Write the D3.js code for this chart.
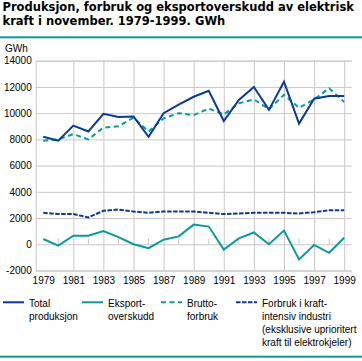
<!DOCTYPE html>
<html>
<head>
<meta charset="utf-8">
<script src="https://cdn.jsdelivr.net/npm/d3@7"></script>
<style>
  body { margin: 0; background: #fff; }
  svg text { font-family: "Liberation Sans", Arial, sans-serif; fill: #000; }
  svg text.title { font-family: "DejaVu Sans", Verdana, sans-serif; font-weight: bold; font-size: 11.5px; }
</style>
</head>
<body>
<svg id="chart"></svg>
<script>
var years = d3.range(1979, 2000);
var totalProduksjon = [8200, 7900, 9050, 8600, 9950, 9700, 9750, 8200, 10000, 10650, 11250, 11700,
                       9400, 11000, 12000, 10250, 12400, 9200, 11100, 11300, 11300];
var eksportoverskudd = [400, -100, 650, 650, 1000, 550, 0, -300, 350, 600, 1500, 1350,
                        -400, 450, 900, 0, 1050, -1150, -50, -650, 500];
var bruttoforbruk = [7900, 8000, 8400, 8000, 8900, 9000, 9650, 8600, 9600, 10000, 9850, 10350,
                     9900, 10750, 11050, 10300, 11400, 10400, 11050, 11900, 10850];
var kraftintensiv = [2400, 2300, 2300, 2050, 2550, 2650, 2500, 2400, 2500, 2500, 2500, 2400,
                     2300, 2350, 2400, 2400, 2400, 2350, 2450, 2600, 2600];
var yTicks = d3.range(-2000, 14001, 2000);
var labelYears = years.filter(function(d) { return d % 2 == 1; });
var legendLabels = [["Total", "produksjon"], ["Eksport-", "overskudd"], ["Brutto-", "forbruk"],
                    ["Forbruk i kraft-", "intensiv industri", "(eksklusive uprioritert", "kraft til elektrokjeler)"]];

function drawChart() {
  var W = 362, H = 361;
  var pLeft = 35.7, pRight = 351.7, pTop = 60.7, pBottom = 270.5;
  var blue = "#0b3a96", teal = "#0b9a9a", grid = "#c8c8c8";

  var svg = d3.select("#chart").attr("width", W).attr("height", H);

  // title
  var title = svg.append("text").attr("class", "title").attr("x", 2.5).attr("y", 10.5);
  title.append("tspan").attr("x", 2.5).text("Produksjon, forbruk og eksportoverskudd av elektrisk");
  title.append("tspan").attr("x", 2.5).attr("dy", 14.7).text("kraft i november. 1979-1999. GWh");

  svg.append("rect").attr("x", 0).attr("y", 36.3).attr("width", W).attr("height", 2).attr("fill", teal);
  svg.append("rect").attr("x", 0).attr("y", 355.7).attr("width", W).attr("height", 2).attr("fill", teal);

  svg.append("text").attr("x", 5).attr("y", 51.5).style("font-size", "10px").text("GWh");

  var x = d3.scalePoint().domain(years).range([pLeft, pRight]).padding(0.5);
  var y = d3.scaleLinear().domain([-2000, 14000]).range([pBottom, pTop]);

  // horizontal grid + y labels
  var yAxis = d3.axisLeft(y).tickValues(yTicks).tickSize(-(pRight - pLeft)).tickPadding(4)
      .tickFormat(function(d) { return d; });
  var gy = svg.append("g").attr("transform", "translate(" + pLeft + ",0)").call(yAxis);
  gy.select(".domain").attr("stroke", grid);
  gy.selectAll("line").attr("stroke", grid);
  gy.selectAll("text").style("font-size", "10px").style("font-family", "Liberation Sans, Arial, sans-serif").attr("fill", "#000");

  // vertical grid + year labels
  var gx = svg.append("g").attr("transform", "translate(0," + pBottom + ")")
      .call(d3.axisBottom(x).tickValues(labelYears).tickSize(-(pBottom - pTop)).tickPadding(6));
  gx.select(".domain").remove();
  gx.selectAll("line").attr("stroke", grid).attr("y2", function(d) { return d == 1979 ? 0 : -(pBottom - pTop); });
  gx.selectAll("text").style("font-size", "10px").style("font-family", "Liberation Sans, Arial, sans-serif").attr("fill", "#000");

  // zero axis small ticks
  svg.append("g").selectAll("line").data(years.filter(function(d) { return d % 2 == 0; })).enter()
    .append("line")
    .attr("x1", function(d) { return x(d); }).attr("x2", function(d) { return x(d); })
    .attr("y1", y(0)).attr("y2", y(0) - 6)
    .attr("stroke", grid);

  var series = [
    { values: totalProduksjon, color: blue, dash: null },
    { values: eksportoverskudd, color: teal, dash: null },
    { values: bruttoforbruk, color: teal, dash: "5,3.5" },
    { values: kraftintensiv, color: blue, dash: "4.5,1.5" }
  ];

  var line = d3.line().x(function(d, i) { return x(years[i]); }).y(function(d) { return y(d); });

  // dashed first, solid on top
  [3, 1, 2, 0].forEach(function(k) {
    var s = series[k];
    svg.append("path").attr("d", line(s.values)).attr("fill", "none")
      .attr("stroke", s.color).attr("stroke-width", 2)
      .attr("stroke-dasharray", s.dash);
  });

  // legend
  var legX = [3, 82, 161, 236];
  series.forEach(function(s, i) {
    var g = svg.append("g").attr("transform", "translate(" + legX[i] + ",0)");
    g.append("line").attr("x1", 0).attr("x2", 21).attr("y1", 302.3).attr("y2", 302.3)
      .attr("stroke", s.color).attr("stroke-width", 2).attr("stroke-dasharray", s.dash);
    g.selectAll("text").data(legendLabels[i]).enter().append("text")
      .attr("x", 26).attr("y", function(d, j) { return 307 + j * 13; })
      .style("font-size", "10px").text(function(d) { return d; });
  });
}

drawChart();
</script>
</body>
</html>
